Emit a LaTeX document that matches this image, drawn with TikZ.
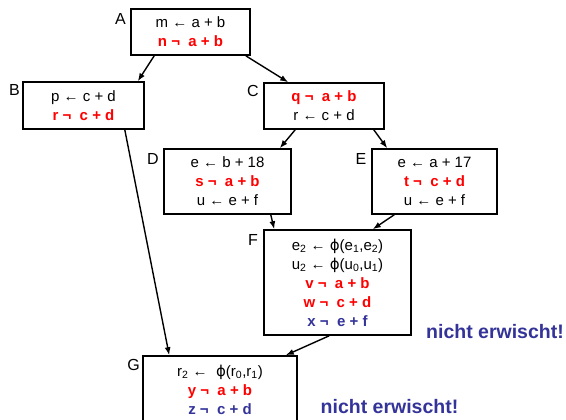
\documentclass[tikz,border=0pt]{standalone}
\usepackage{fontspec}
\setmainfont{Liberation Sans}
\newfontfamily\phifont{DejaVu Sans}
\usetikzlibrary{arrows.meta}
\definecolor{hred}{RGB}{255,0,0}
\definecolor{hblue}{RGB}{51,51,153}
\newcommand{\myphi}{{\phifont ϕ}}
\newcommand{\redl}[1]{\textcolor{hred}{\bfseries #1}}
\newcommand{\bluel}[1]{\textcolor{hblue}{\bfseries #1}}
\newcommand{\sub}[1]{\textsubscript{#1}}
\begin{document}
\begin{tikzpicture}[x=1pt,y=-1pt,
  blk/.style={draw,line width=1.6pt,inner sep=0pt,align=center,font=\fontsize{15}{19}\selectfont},
  txt/.style={inner sep=0pt,align=center,font=\fontsize{15}{19}\selectfont},
  lbl/.style={inner sep=0pt,font=\fontsize{16}{19}\selectfont},
  edge/.style={line width=1.4pt,-{Latex[length=8pt,width=6pt]}},
  note/.style={inner sep=0pt,text=hblue,font=\fontsize{19.5}{22}\selectfont\bfseries}]
\useasboundingbox (0,0) rectangle (566,420);
\clip (0,0) rectangle (566,420);

\node[blk,minimum width=119,minimum height=46] (A) at (190.5,32)
  {m ← a + b\\\redl{n ¬~ a + b}};
\node[blk,minimum width=121,minimum height=47] (B) at (83.5,105.5)
  {p ← c + d\\\redl{r ¬~ c + d}};
\node[blk,minimum width=120,minimum height=46] (C) at (324,106)
  {\redl{q ¬~ a + b}\\r ← c + d};
\node[blk,minimum width=127,minimum height=65] (D) at (227.5,181.5)
  {e ← b + 18\\\redl{s ¬~ a + b}\\u ← e + f};
\node[blk,minimum width=125,minimum height=65] (E) at (434.5,181.5)
  {e ← a + 17\\\redl{t ¬~ c + d}\\u ← e + f};
\node[blk,minimum width=147,minimum height=105] (F) at (337.5,282.5)
  {e\sub{2} ← \myphi(e\sub{1},e\sub{2})\\u\sub{2} ← \myphi(u\sub{0},u\sub{1})\\\redl{v ¬~ a + b}\\\redl{w ¬~ c + d}\\\bluel{x ¬~ e + f}};
\node[draw,line width=1.6pt,minimum width=154,minimum height=80] (G) at (220,396) {};
\node[txt] (Gt) at (220,390)
  {r\sub{2} ←~ \myphi(r\sub{0},r\sub{1})\\\redl{y ¬~ a + b}\\\bluel{z ¬~ c + d}};

\node[lbl] (lA) at (120.5,19) {A};
\node[lbl] (lB) at (14.5,89.5) {B};
\node[lbl] (lC) at (253,90.5) {C};
\node[lbl] (lD) at (153,158.5) {D};
\node[lbl] (lE) at (361,159) {E};
\node[lbl] (lF) at (253,239.5) {F};
\node[lbl] (lG) at (133.5,364.5) {G};

\node[note] (n1) at (495,332) {nicht erwischt!};
\node[note] (n2) at (389.5,407) {nicht erwischt!};

\draw[edge] ([xshift=24pt]A.south west) -- ([xshift=-7pt]B.north east);
\draw[edge] ([xshift=-5pt]A.south east) -- ([xshift=25pt]C.north west);
\draw[edge] ([xshift=32pt]C.south west) -- ([xshift=-12pt]D.north east);
\draw[edge] ([xshift=-11pt]C.south east) -- ([xshift=16pt]E.north west);
\draw[edge] ([xshift=-21pt]D.south east) -- ([xshift=11pt]F.north west);
\draw[edge] ([xshift=23pt]E.south west) -- ([xshift=-39pt]F.north east);
\draw[edge] ([xshift=-20pt]B.south east) -- ([xshift=27pt]G.north west);
\draw[edge] ([xshift=66pt]F.south west) -- ([xshift=-12pt]G.north east);
\end{tikzpicture}
\end{document}
